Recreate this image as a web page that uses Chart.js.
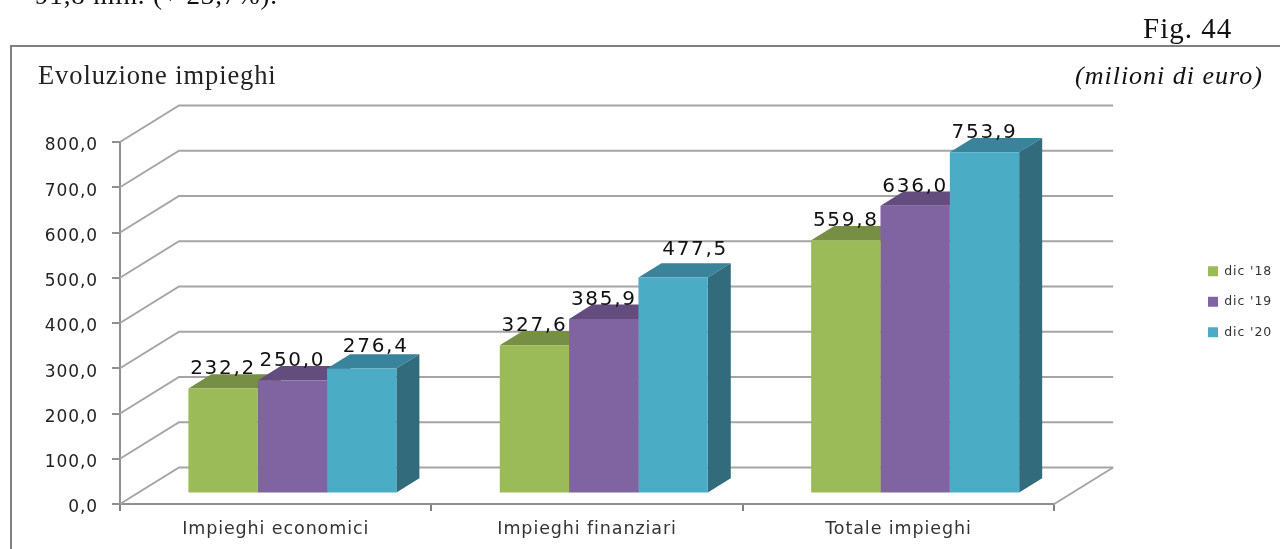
<!DOCTYPE html>
<html>
<head>
  <meta charset="UTF-8">
  <title>Evoluzione impieghi</title>
  <script src="https://cdn.jsdelivr.net/npm/chart.js"></script>
  <style>
    html, body { margin: 0; padding: 0; background: #fff; overflow: hidden; }
    #wrap { position: relative; width: 1280px; height: 549px; overflow: hidden; }
    #wrap div { position: absolute; font-family: "Liberation Serif", serif; color: #111; white-space: nowrap; line-height: 1; }
    #cut { left: 35px; top: -18px; font-size: 27px; letter-spacing: 0.85px; }
    #fig { left: 1143px; top: 14px; font-size: 29px; letter-spacing: 1px; }
    #unit { left: 1075px; top: 63px; font-size: 26px; font-style: italic; letter-spacing: 1px; }
  </style>
</head>
<body>
  <div id="wrap">
    <canvas id="myChart" width="1280" height="549"></canvas>
    <div id="cut">91,8 mln. (+ 23,7%).</div>
    <div id="fig">Fig. 44</div>
    <div id="unit">(milioni di euro)</div>
  </div>
  <script>
    const categories = ["Impieghi economici", "Impieghi finanziari", "Totale impieghi"];
    const seriesNames = ["dic '18", "dic '19", "dic '20"];
    const dic18 = [232.2, 327.6, 559.8];
    const dic19 = [250.0, 385.9, 636.0];
    const dic20 = [276.4, 477.5, 753.9];

    // colori: fronte, tetto, fianco
    const frontColors = ['#9BBB59', '#8064A2', '#4BACC6'];
    const topColors = ['#778F44', '#634D7E', '#39839B'];
    const sideColors = ['#5F7A33', '#4E3C66', '#316B7C'];

    // finta prospettiva
    const wallDx = 59, wallDy = 36.5;     // parete di fondo
    const barDx = 16.7, barDy = 10.5;     // piano frontale delle barre
    const depthDx = 23, depthDy = 14.3;   // profondita delle barre

    // etichette spostate a mano come nell'originale [serie][categoria]
    const labelShiftX = [[0, 0, 0], [0, 0, 0], [14, 22, 0]];
    const labelShiftY = [[0, 0, 0], [0, 0, 0], [-2, -8, 0]];

    const comma = v => v.toFixed(1).replace('.', ',');

    const fake3d = {
      id: 'fake3d',
      beforeDraw(chart) {
        const ctx = chart.ctx;
        ctx.letterSpacing = '0.9px';
        // la legenda va messa a mano, altrimenti resta attaccata al grafico
        chart.legend.left = 1190;
        chart.legend.right = 1280;
        chart.legend.top = 247;
        chart.legend.bottom = 549;
        // cornice
        ctx.save();
        ctx.strokeStyle = '#808080';
        ctx.lineWidth = 2;
        ctx.beginPath();
        ctx.moveTo(11, 549);
        ctx.lineTo(11, 46);
        ctx.lineTo(1280, 46);
        ctx.stroke();
        ctx.restore();
      },
      beforeDatasetsDraw(chart) {
        const ctx = chart.ctx;
        const y = chart.scales.y;
        const a = chart.chartArea;
        // griglia sul fondo
        ctx.save();
        ctx.strokeStyle = '#A5A5A5';
        ctx.lineWidth = 2;
        y.ticks.forEach(t => {
          const py = y.getPixelForValue(t.value);
          ctx.beginPath();
          ctx.moveTo(a.left, py);
          ctx.lineTo(a.left + wallDx, py - wallDy);
          ctx.lineTo(a.right + wallDx, py - wallDy);
          ctx.stroke();
        });
        ctx.beginPath();
        ctx.moveTo(a.right + wallDx, a.bottom - wallDy);
        ctx.lineTo(a.right, a.bottom);
        ctx.stroke();
        ctx.restore();

        // sposto le barre sul loro piano, restore in afterDatasetsDraw
        ctx.save();
        ctx.translate(barDx, -barDy);
        chart.data.datasets.forEach((ds, i) => {
          chart.getDatasetMeta(i).data.forEach(bar => {
            const l = bar.x - bar.width / 2, r = bar.x + bar.width / 2;
            ctx.fillStyle = topColors[i];
            ctx.beginPath();
            ctx.moveTo(l, bar.y);
            ctx.lineTo(l + depthDx, bar.y - depthDy);
            ctx.lineTo(r + depthDx, bar.y - depthDy);
            ctx.lineTo(r, bar.y);
            ctx.closePath();
            ctx.fill();
            ctx.fillStyle = sideColors[i];
            ctx.beginPath();
            ctx.moveTo(r, bar.y);
            ctx.lineTo(r + depthDx, bar.y - depthDy);
            ctx.lineTo(r + depthDx, bar.base - depthDy);
            ctx.lineTo(r, bar.base);
            ctx.closePath();
            ctx.fill();
          });
        });
      },
      afterDatasetsDraw(chart) {
        const ctx = chart.ctx;
        ctx.restore();
        // etichette dei valori
        ctx.save();
        ctx.font = '20px "DejaVu Sans"';
        ctx.letterSpacing = '1.7px';
        ctx.fillStyle = '#111';
        ctx.textAlign = 'center';
        ctx.textBaseline = 'alphabetic';
        chart.data.datasets.forEach((ds, i) => {
          chart.getDatasetMeta(i).data.forEach((bar, k) => {
            ctx.fillText(comma(ds.data[k]),
              bar.x + barDx + labelShiftX[i][k],
              bar.y - barDy - 14 + labelShiftY[i][k]);
          });
        });
        ctx.restore();
      }
    };

    const seriesValues = [dic18, dic19, dic20];

    new Chart(document.getElementById('myChart'), {
      type: 'bar',
      data: {
        labels: categories,
        datasets: seriesNames.map((name, i) => ({
          label: name,
          data: seriesValues[i],
          backgroundColor: frontColors[i],
          borderWidth: 0,
          categoryPercentage: 0.668,
          barPercentage: 1
        }))
      },
      options: {
        responsive: false,
        animation: false,
        layout: { padding: { left: 38, right: 140, top: 0, bottom: 0 } },
        scales: {
          x: {
            afterFit(s) { s.height = 45; },
            border: { color: '#909090', width: 2 },
            grid: { drawOnChartArea: false, drawTicks: true, tickLength: 7, color: '#808080', lineWidth: 2 },
            ticks: { color: '#333', padding: 8, font: { family: 'DejaVu Sans', size: 17.5 }, maxRotation: 0 }
          },
          y: {
            min: 0,
            max: 800,
            afterFit(s) { s.width = 82; },
            border: { color: '#909090', width: 2 },
            grid: { drawOnChartArea: false, drawTicks: true, tickLength: 8, color: '#909090', lineWidth: 2 },
            ticks: {
              stepSize: 100,
              color: '#222',
              padding: 14,
              labelOffset: 4,
              font: { family: 'DejaVu Sans', size: 17 },
              callback: v => comma(v)
            }
          }
        },
        plugins: {
          title: {
            display: true,
            text: 'Evoluzione impieghi',
            align: 'start',
            color: '#222',
            font: { family: 'Liberation Serif', size: 26.5, weight: 'normal' },
            padding: { top: 61, bottom: 49.2 }
          },
          legend: {
            position: 'right',
            align: 'start',
            labels: {
              boxWidth: 10,
              boxHeight: 10,
              padding: 18,
              color: '#333',
              font: { family: 'DejaVu Sans', size: 12.5 }
            },
            onClick: null
          },
          tooltip: { enabled: false }
        }
      },
      plugins: [fake3d]
    });
  </script>
</body>
</html>
